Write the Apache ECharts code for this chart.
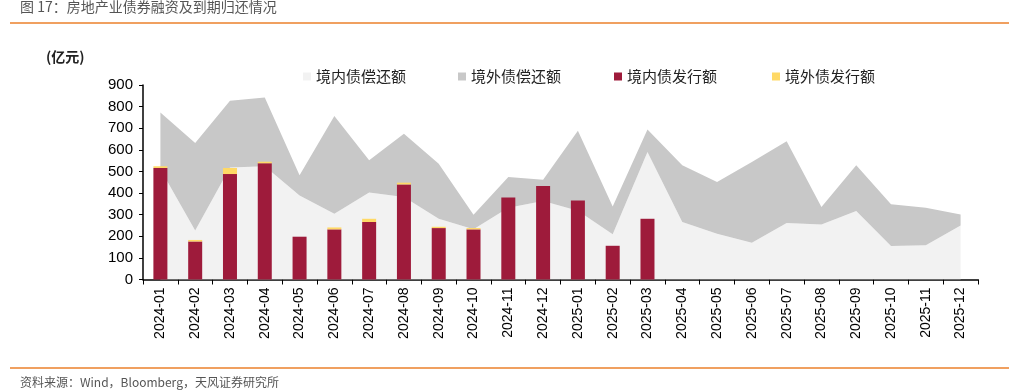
<!DOCTYPE html>
<html><head><meta charset="utf-8">
<script src="https://cdn.jsdelivr.net/npm/echarts@6/dist/echarts.min.js"></script>
<style>html,body{margin:0;padding:0;background:#fff}#c{width:1009px;height:392px}</style>
</head><body><div id="c"></div>
<script>
const categories = ['2024-01','2024-02','2024-03','2024-04','2024-05','2024-06','2024-07','2024-08','2024-09','2024-10','2024-11','2024-12','2025-01','2025-02','2025-03','2025-04','2025-05','2025-06','2025-07','2025-08','2025-09','2025-10','2025-11','2025-12'];
const domesticRepay = [510, 227, 518, 524, 389, 304, 403, 382, 281, 232, 332, 363, 318, 209, 590, 266, 212, 170, 261, 255, 317, 155, 158, 250];
const overseasRepay = [263, 405, 309, 318, 93, 453, 149, 293, 255, 68, 142, 99, 370, 129, 104, 263, 239, 374, 379, 80, 212, 193, 174, 51];
const domesticIssue = [516, 176, 488, 538, 198, 232, 266, 440, 238, 232, 379, 433, 365, 156, 281, null, null, null, null, null, null, null, null, null];
const overseasIssue = [8, 7, 28, 7, 0, 9, 15, 8, 6, 6, 0, 0, 0, 0, 0, null, null, null, null, null, null, null, null, null];
const yTicks = [0, 100, 200, 300, 400, 500, 600, 700, 800, 900];
const names = ['境内债偿还额', '境外债偿还额', '境内债发行额', '境外债发行额'];
const colors = ['#f2f2f2', '#c8c8c8', '#9e1b3b', '#ffd966'];

const chart = echarts.init(document.getElementById('c'));
const legendFont = {fontFamily: '"Noto Sans CJK SC"', fontSize: 15, color: '#222'};
const legendPos = [298, 453, 609, 767];
chart.setOption({
  animation: false,
  graphic: [
    {type: 'text', left: 20, top: 0, style: {text: '图 17：房地产业债券融资及到期归还情况', fontFamily: '"Noto Sans CJK SC"', fontSize: 14, fill: '#555'}},
    {type: 'rect', shape: {x: 10, y: 22, width: 999, height: 2}, style: {fill: '#f0a060'}},
    {type: 'text', left: 46, top: 50, style: {text: '(亿元)', fontFamily: '"Noto Sans CJK SC"', fontSize: 14, fontWeight: 'bold', fill: '#222'}},
    {type: 'rect', shape: {x: 10, y: 367, width: 999, height: 2}, style: {fill: '#f0a060'}},
    {type: 'text', left: 20, top: 376, style: {text: '资料来源：Wind，Bloomberg，天风证券研究所', fontFamily: '"Noto Sans CJK SC"', fontSize: 12, fill: '#555'}}
  ],
  legend: names.map((n, i) => ({
    data: [n], left: legendPos[i], top: 64, itemWidth: 8, itemHeight: 8, icon: 'rect',
    textStyle: legendFont, itemGap: 0
  })),
  grid: {left: 143, right: 31, top: 85, bottom: 112.5, containLabel: false},
  xAxis: {
    type: 'category', data: categories, boundaryGap: true,
    axisLine: {lineStyle: {color: '#000', width: 1.5}},
    axisTick: {show: true, alignWithLabel: false, length: 5, lineStyle: {color: '#000'}},
    axisLabel: {rotate: 90, fontFamily: '"Liberation Sans", Arial', fontSize: 14, color: '#000', margin: 8, interval: 0}
  },
  yAxis: {
    type: 'value', min: 0, max: 900, interval: 100,
    axisLine: {show: true, lineStyle: {color: '#000', width: 1.5}},
    axisTick: {show: true, length: 4, lineStyle: {color: '#000'}},
    splitLine: {show: false},
    axisLabel: {fontFamily: '"Liberation Sans", Arial', fontSize: 15, color: '#000', margin: 10,
      formatter: v => yTicks.includes(v) ? String(v) : ''}
  },
  series: [
    {name: names[0], type: 'line', stack: 'repay', data: domesticRepay, symbol: 'none',
      lineStyle: {width: 0}, itemStyle: {color: colors[0]}, areaStyle: {color: colors[0], opacity: 1}, z: 1},
    {name: names[1], type: 'line', stack: 'repay', data: overseasRepay, symbol: 'none',
      lineStyle: {width: 0}, itemStyle: {color: colors[1]}, areaStyle: {color: colors[1], opacity: 1}, z: 1},
    {name: names[2], type: 'bar', stack: 'issue', data: domesticIssue, barWidth: 14,
      itemStyle: {color: colors[2]}, z: 3},
    {name: names[3], type: 'bar', stack: 'issue', data: overseasIssue, barWidth: 14,
      itemStyle: {color: colors[3]}, z: 3}
  ]
});
</script></body></html>
